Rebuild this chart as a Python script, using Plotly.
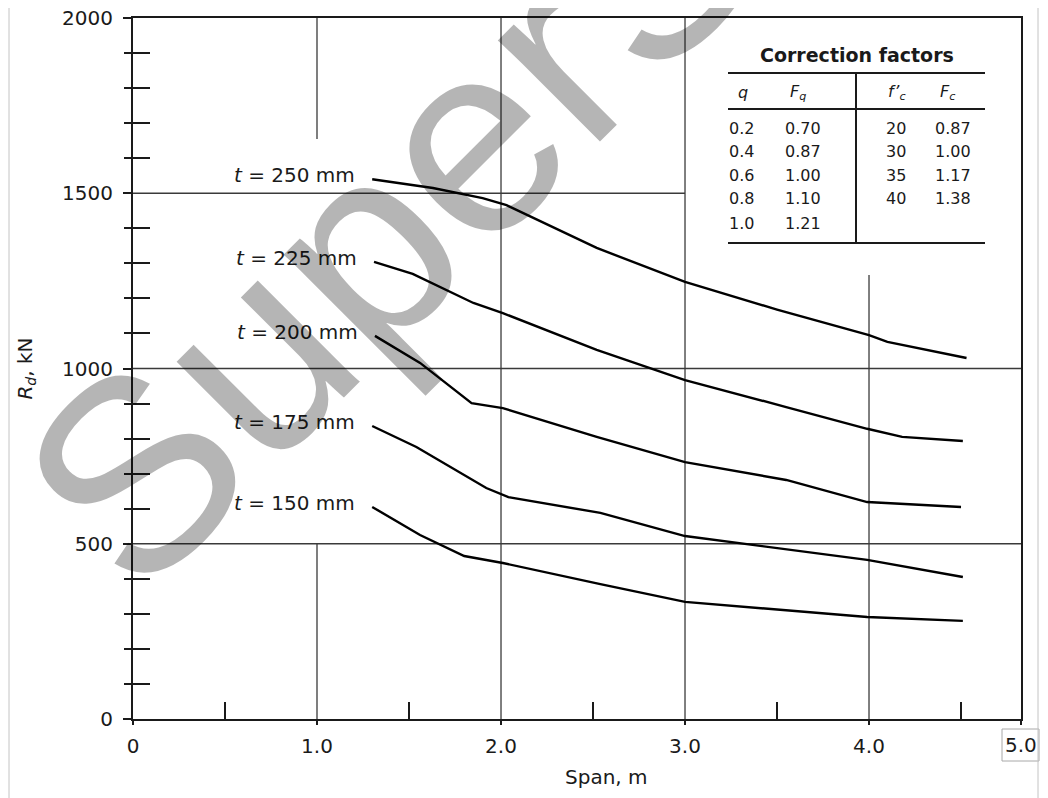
import plotly.graph_objects as go

# ---------------- data ----------------
span_250 = [1.30, 1.63, 1.90, 2.03, 2.52, 3.00, 3.50, 4.00, 4.10, 4.53]
rd_250 = [1540, 1515, 1486, 1466, 1344, 1247, 1168, 1095, 1076, 1030]

span_225 = [1.31, 1.52, 1.85, 2.01, 2.52, 3.00, 3.55, 3.99, 4.18, 4.51]
rd_225 = [1304, 1270, 1187, 1158, 1053, 967, 890, 828, 805, 793]

span_200 = [1.315, 1.56, 1.84, 2.01, 2.52, 3.00, 3.55, 3.99, 4.50]
rd_200 = [1093, 1016, 901, 887, 805, 733, 682, 619, 605]

span_175 = [1.30, 1.54, 1.92, 2.04, 2.54, 3.00, 3.99, 4.51]
rd_175 = [836, 776, 659, 633, 588, 522, 454, 405]

span_150 = [1.30, 1.56, 1.80, 2.01, 2.54, 3.00, 3.99, 4.51]
rd_150 = [605, 525, 465, 445, 385, 334, 291, 280]

series_labels = ["250", "225", "200", "175", "150"]

x_tick_vals = [0, 1, 2, 3, 4]
x_tick_text = ["0", "1.0", "2.0", "3.0", "4.0"]
x_end_label = "5.0"
y_tick_vals = [0, 500, 1000, 1500, 2000]

table_title = "Correction factors"
q_vals = ["0.2", "0.4", "0.6", "0.8", "1.0"]
Fq_vals = ["0.70", "0.87", "1.00", "1.10", "1.21"]
fc_vals = ["20", "30", "35", "40"]
Fc_vals = ["0.87", "1.00", "1.17", "1.38"]

# ---------------- layout geometry ----------------
OFF = 8                      # page body offset of the figure
W, H = 1048 - OFF, 798 - OFF
L, R, T, B = 133, 1021, 18, 719   # plot frame in window pixels
PW, PH = R - L, B - T
X_END = 4.826  # right border of the frame (labelled 5.0 in the source)


def px(xp):
    return (xp - L) / PW


def py(yp):
    return (B - yp) / PH


FONT = "DejaVu Sans"
INK = "#1a1a1a"
GRID = "#3a3a3a"

fig = go.Figure()

series = [(span_250, rd_250), (span_225, rd_225), (span_200, rd_200),
          (span_175, rd_175), (span_150, rd_150)]
for (xs, ys), lab in zip(series, series_labels):
    fig.add_trace(go.Scatter(x=xs, y=ys, mode="lines",
                             line=dict(color="black", width=2.4),
                             name=f"t = {lab} mm", showlegend=False))
    fig.add_annotation(x=xs[0], y=ys[0], xref="x", yref="y",
                       text=f"<i>t</i> = {lab} mm", showarrow=False,
                       xanchor="right", yanchor="middle", xshift=-15, yshift=4,
                       font=dict(family=FONT, size=20, color=INK))

# invisible trace on overlay axis that carries the outer part of minor y ticks
fig.add_trace(go.Scatter(x=[None], y=[None], yaxis="y2", showlegend=False,
                         hoverinfo="skip"))

# ---------------- grid lines (partial, as in the source) ----------------
grid_segments = [
    ("v", 1, 0, 500), ("v", 1, 1655, 2000),
    ("v", 2, 0, 2000), ("v", 3, 0, 2000), ("v", 4, 0, 1267),
    ("h", 500, 0, X_END), ("h", 1000, 0, X_END), ("h", 1500, 0, 3),
]
for kind, c, a, b in grid_segments:
    if kind == "v":
        fig.add_shape(type="line", xref="x", yref="y", x0=c, x1=c, y0=a, y1=b,
                      line=dict(color=GRID, width=1.3), layer="below")
    else:
        fig.add_shape(type="line", xref="x", yref="y", x0=a, x1=b, y0=c, y1=c,
                      line=dict(color=GRID, width=1.3), layer="below")


def note(xp, yp, text, size, xanchor="center", **kw):
    fig.add_annotation(x=px(xp), y=py(yp), xref="paper", yref="paper",
                       text=text, showarrow=False, xanchor=xanchor,
                       yanchor="middle",
                       font=dict(family=kw.pop("family", FONT), size=size,
                                 color=kw.pop("color", INK)), **kw)


# ---------------- correction factor table ----------------
note(857, 55, f"<b>{table_title}</b>", 19)
for yy in (73, 109, 243):
    fig.add_shape(type="line", xref="paper", yref="paper",
                  x0=px(728), x1=px(985), y0=py(yy), y1=py(yy),
                  line=dict(color=INK, width=2))
fig.add_shape(type="line", xref="paper", yref="paper",
              x0=px(856), x1=px(856), y0=py(73), y1=py(243),
              line=dict(color=INK, width=2))
headers = [("<i>q</i>", 743), ("<i>F<sub>q</sub></i>", 798),
           ("<i>f’<sub>c</sub></i>", 897), ("<i>F<sub>c</sub></i>", 947)]
for txt, xx in headers:
    note(xx, 92, txt, 16)
row_y = [128, 152, 176, 199, 223]
for i, (q, f) in enumerate(zip(q_vals, Fq_vals)):
    note(727, row_y[i], q, 16, xanchor="left")
    note(783, row_y[i], f, 16, xanchor="left")
for i, (c, f) in enumerate(zip(fc_vals, Fc_vals)):
    note(908, row_y[i], c, 16, xanchor="right")
    note(933, row_y[i], f, 16, xanchor="left")

# ---------------- x axis title and end label ----------------
note(606, 777, "Span, m", 20)
fig.add_annotation(x=X_END, y=py(745), xref="x", yref="paper",
                   text=x_end_label, showarrow=False, xanchor="center",
                   yanchor="middle",
                   font=dict(family=FONT, size=20, color=INK))
fig.add_shape(type="rect", xref="paper", yref="paper",
              x0=px(1002), x1=px(1039), y0=py(761), y1=py(729),
              line=dict(color="#a8a8a8", width=1))

# outer light frame of the picture
fig.add_shape(type="rect", xref="paper", yref="paper",
              x0=px(9), x1=px(1038), y0=py(805), y1=py(4),
              line=dict(color="#c4c4c4", width=1))

# watermark
note(392, 218, "SuperS", 272, family="Liberation Sans",
     color="rgba(0,0,0,0.29)", textangle=-45)

axis_font = dict(family=FONT, size=20, color=INK)
minor_y = [v for v in range(100, 2000, 100) if v % 500]

fig.update_layout(
    width=W, height=H,
    margin=dict(l=L - OFF, r=W - (R - OFF), t=T - OFF, b=H - (B - OFF),
                autoexpand=False),
    paper_bgcolor="white", plot_bgcolor="white",
    xaxis=dict(range=[0, X_END], showgrid=False, zeroline=False,
               automargin=False, ticklabeloverflow="allow",
               showline=True, linecolor=INK, linewidth=2, mirror=True,
               tickvals=x_tick_vals + [X_END], ticktext=x_tick_text + [" "],
               ticks="outside", ticklen=4, tickwidth=1.5, tickcolor=INK,
               tickfont=axis_font, ticklabelstandoff=4,
               minor=dict(tickvals=[0.5, 1.5, 2.5, 3.5, 4.5], ticks="inside",
                          ticklen=17, tickwidth=1.5, tickcolor=INK)),
    yaxis=dict(range=[0, 2000], showgrid=False, zeroline=False,
               automargin=False, ticklabeloverflow="allow",
               showline=True, linecolor=INK, linewidth=2, mirror=True,
               tickvals=y_tick_vals, ticks="outside", ticklen=8, tickwidth=1.5,
               tickcolor=INK, tickfont=axis_font, ticklabelstandoff=6,
               minor=dict(tickvals=minor_y, ticks="inside", ticklen=17,
                          tickwidth=1.5, tickcolor=INK),
               title=dict(text="<i>R<sub>d</sub></i>, kN", font=axis_font,
                          standoff=24)),
    yaxis2=dict(range=[0, 2000], overlaying="y", side="left",
                automargin=False,
                showgrid=False, zeroline=False, showline=False,
                tickvals=minor_y, ticks="outside", ticklen=8, tickwidth=1.5,
                tickcolor=INK, showticklabels=False),
)

fig.write_html("out.html")
